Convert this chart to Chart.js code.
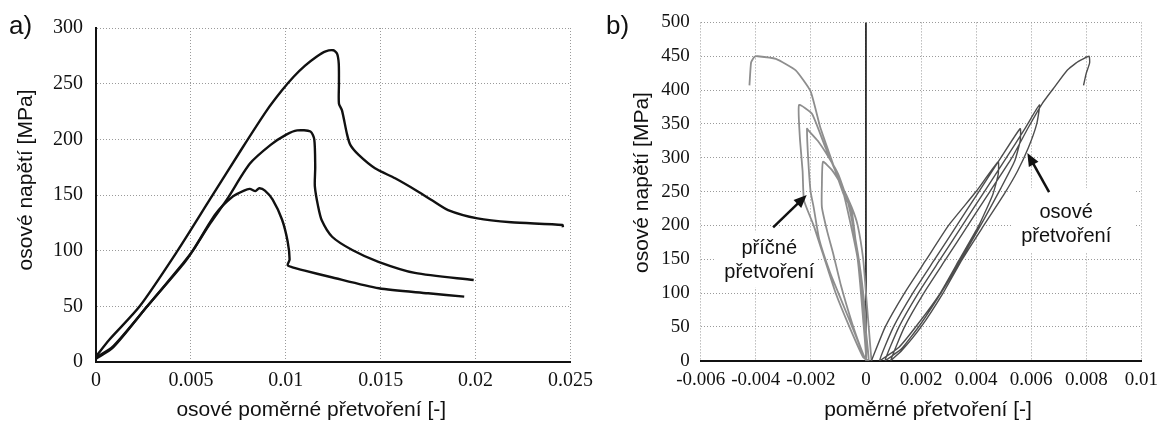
<!DOCTYPE html>
<html>
<head>
<meta charset="utf-8">
<script src="https://cdn.jsdelivr.net/npm/chart.js@4.4.0/dist/chart.umd.min.js"></script>
<style>
  html, body { margin: 0; padding: 0; background: #fff; }
  #wrap { position: relative; width: 1166px; height: 422px; overflow: hidden; }
  canvas { position: absolute; top: 0; }
  #chartA { left: 0; }
  #chartB { left: 616px; }
  .panel { position: absolute; font-family: "Liberation Sans", Arial, sans-serif; font-size: 26px; line-height: 26px; color: #111; }
</style>
</head>
<body>
<div id="wrap">
  <canvas id="chartA" width="600" height="422"></canvas>
  <canvas id="chartB" width="550" height="422"></canvas>
  <div class="panel" style="left:9px; top:12px;">a)</div>
  <div class="panel" style="left:606px; top:12px;">b)</div>
</div>
<script>
// a) osové napětí vs. osové poměrné přetvoření
const aXTicks = [0, 0.005, 0.01, 0.015, 0.02, 0.025];
const aXLabels = ["0", "0.005", "0.01", "0.015", "0.02", "0.025"];
const aYTicks = [0, 50, 100, 150, 200, 250, 300];

const aStrain1 = [0, 0.0007, 0.0023, 0.0043, 0.0060, 0.0077, 0.0090, 0.0098, 0.0104, 0.0110, 0.0116, 0.0121, 0.0125, 0.0127, 0.01279, 0.0128, 0.0128, 0.01296, 0.01322, 0.0134, 0.01384, 0.0147, 0.01576, 0.01698, 0.01768, 0.01855, 0.0201, 0.02187, 0.02458, 0.0246];
const aStress1 = [5, 20, 50, 100, 146, 192, 226, 244, 256, 266, 274, 279, 280, 277, 268, 250, 232, 226, 205, 195, 186, 174, 165, 153, 145.5, 136.5, 129, 125.5, 123, 121];

const aStrain2 = [0, 0.0009, 0.0027, 0.0046, 0.0051, 0.0060, 0.0069, 0.0081, 0.0092, 0.0100, 0.0106, 0.0113, 0.0115, 0.01155, 0.01153, 0.0117, 0.0119, 0.01244, 0.0135, 0.01488, 0.0168, 0.0199];
const aStress2 = [4, 14, 50, 89, 100, 124, 146, 178, 195, 204, 208, 207, 200, 175, 158, 140, 127, 112.5, 100.6, 90, 80, 73.6];

const aStrain3 = [0, 0.0009, 0.0027, 0.0046, 0.0051, 0.0063, 0.0072, 0.0078, 0.0081, 0.0084, 0.0086, 0.0089, 0.0093, 0.0098, 0.0101, 0.0102, 0.0101, 0.01035, 0.0110, 0.0123, 0.0149, 0.0175, 0.0194];
const aStress3 = [3, 13, 50, 88, 100, 133, 148.5, 154, 155.5, 153.5, 156, 154, 146, 128, 108, 92, 87, 85, 82, 76.6, 66.2, 61.7, 58.7];

// b) cyklické zatěžování
const bXTicks = [-0.006, -0.004, -0.002, 0, 0.002, 0.004, 0.006, 0.008, 0.01];
const bXLabels = ["-0.006", "-0.004", "-0.002", "0", "0.002", "0.004", "0.006", "0.008", "0.01"];
const bYTicks = [0, 50, 100, 150, 200, 250, 300, 350, 400, 450, 500];

// příčné přetvoření (cykly + obálka)
const bTransStrain = [
  0.0002, 0.0001, 0, -0.0001, -0.0003, -0.00052, -0.0009, -0.00124, -0.00156,
  -0.0016, -0.0016, -0.0014, -0.0012, -0.0009, -0.0005, -0.0002, 0,
  0, -0.0001, -0.0003, -0.00064, -0.001, -0.00136, -0.00175, -0.00208, -0.00214,
  -0.0021, -0.00201, -0.0019, -0.0017, -0.0013, -0.0009, -0.0004, 0,
  -0.0001, -0.0003, -0.0006, -0.00088, -0.00148, -0.00196, -0.00243,
  -0.0024, -0.0023, -0.00225, -0.0019, -0.0015, -0.0011, -0.0006, -0.0001, 0.0001,
  -0.0001, -0.0003, -0.00052, -0.00082, -0.00124, -0.00166, -0.00201, -0.00255, -0.00327, -0.00393, -0.00405, -0.00417, -0.00423
];
const bTransStress = [
  0, 50, 100, 150, 200, 227, 260, 282, 294,
  260, 227, 190, 160, 110, 55, 20, 0,
  50, 100, 160, 232, 275, 301, 325, 340, 343,
  300, 250, 227, 180, 130, 90, 40, 0,
  60, 150, 210, 257, 316, 365, 378,
  330, 280, 237, 200, 150, 100, 50, 5, 0,
  80, 150, 222, 247, 296, 345, 398, 429, 446, 450, 449, 441, 407
];

// osové přetvoření (cykly + obálka)
const bAxialStrain = [
  0.0002, 0.0007, 0.0014, 0.0022, 0.0030, 0.0040, 0.0048,
  0.0048, 0.0046, 0.0041, 0.0034, 0.0027, 0.0019, 0.0012, 0.0005,
  0.0010, 0.0017, 0.0025, 0.0033, 0.0041, 0.0049, 0.0056,
  0.0056, 0.0054, 0.0049, 0.0043, 0.0036, 0.0028, 0.0020, 0.0013, 0.0007,
  0.0012, 0.0019, 0.0027, 0.0035, 0.0043, 0.0051, 0.0058, 0.0063,
  0.0062, 0.0059, 0.0055, 0.0050, 0.0042, 0.0035, 0.0028, 0.0020, 0.0013, 0.0009,
  0.0014, 0.0021, 0.0029, 0.0037, 0.0045, 0.0053, 0.0059, 0.0064, 0.0068, 0.0073, 0.0077, 0.0081, 0.00812, 0.0080, 0.0079
];
const bAxialStress = [
  0, 50, 100, 150, 200, 250, 294,
  275, 245, 200, 150, 100, 55, 20, 0,
  50, 100, 150, 200, 250, 300, 343,
  325, 295, 255, 210, 160, 105, 55, 18, 0,
  50, 100, 150, 200, 250, 300, 345, 378,
  350, 315, 280, 245, 195, 150, 100, 50, 15, 0,
  50, 100, 150, 200, 250, 300, 345, 380, 402, 429, 442, 450, 440, 425, 407
];

const bZeroStrain = [0, 0];
const bZeroStress = [0, 500];

// popisky se šipkami (v jednotkách os)
const bNotes = [
  { lines: ["příčné", "přetvoření"], box: [-0.00552, -0.00179, 108, 190], textX: -0.00351, textY: [166, 131], arrow: [-0.00337, 197, -0.00215, 245] },
  { lines: ["osové", "přetvoření"], box: [0.00532, 0.00977, 160, 255], textX: 0.00727, textY: [219, 183], arrow: [0.00665, 249, 0.00586, 307] }
];

const titleFontCss = "21px 'Liberation Sans', Arial, sans-serif";
const gridColor = "#9a9a9a";

function curve(xs, ys, color, width, tension) {
  return {
    data: xs.map((x, i) => ({ x: x, y: ys[i] })),
    showLine: true,
    borderColor: color,
    borderWidth: width,
    pointRadius: 0,
    tension: tension,
    fill: false
  };
}

// popisky os - posunuté jako v předloze
function titlesPlugin(t) {
  return {
    id: "titles",
    afterDraw(chart) {
      const ctx = chart.ctx, ca = chart.chartArea;
      ctx.save();
      ctx.fillStyle = "#111";
      ctx.font = titleFontCss;
      ctx.textAlign = "center";
      ctx.textBaseline = "middle";
      ctx.fillText(t.x, (ca.left + ca.right) / 2 + t.xShift, t.xY);
      ctx.translate(t.yX, (ca.top + ca.bottom) / 2 + t.yShift);
      ctx.rotate(-Math.PI / 2);
      ctx.fillText(t.y, 0, 0);
      ctx.restore();
    }
  };
}

function notesPlugin(notes) {
  return {
    id: "notes",
    beforeDatasetsDraw(chart) {
      const ctx = chart.ctx, sx = chart.scales.x, sy = chart.scales.y;
      ctx.save();
      notes.forEach(n => {
        const x1 = sx.getPixelForValue(n.box[0]), x2 = sx.getPixelForValue(n.box[1]);
        const y1 = sy.getPixelForValue(n.box[3]), y2 = sy.getPixelForValue(n.box[2]);
        ctx.fillStyle = "#fff";
        ctx.fillRect(x1, y1, x2 - x1, y2 - y1);
        ctx.fillStyle = "#111";
        ctx.font = "20px 'Liberation Sans', Arial, sans-serif";
        ctx.textAlign = "center";
        ctx.textBaseline = "middle";
        n.lines.forEach((t, i) => {
          ctx.fillText(t, sx.getPixelForValue(n.textX), sy.getPixelForValue(n.textY[i]));
        });
      });
      ctx.restore();
    },
    afterDatasetsDraw(chart) {
      const ctx = chart.ctx, sx = chart.scales.x, sy = chart.scales.y;
      ctx.save();
      notes.forEach(n => {
        const ax = sx.getPixelForValue(n.arrow[0]), ay = sy.getPixelForValue(n.arrow[1]);
        const bx = sx.getPixelForValue(n.arrow[2]), by = sy.getPixelForValue(n.arrow[3]);
        const ang = Math.atan2(by - ay, bx - ax);
        const len = 13, half = 5.5;
        ctx.strokeStyle = "#111";
        ctx.fillStyle = "#111";
        ctx.lineWidth = 2.5;
        ctx.beginPath();
        ctx.moveTo(ax, ay);
        ctx.lineTo(bx - Math.cos(ang) * len * 0.8, by - Math.sin(ang) * len * 0.8);
        ctx.stroke();
        ctx.beginPath();
        ctx.moveTo(bx, by);
        ctx.lineTo(bx - Math.cos(ang) * len - Math.sin(ang) * half, by - Math.sin(ang) * len + Math.cos(ang) * half);
        ctx.lineTo(bx - Math.cos(ang) * len + Math.sin(ang) * half, by - Math.sin(ang) * len - Math.cos(ang) * half);
        ctx.closePath();
        ctx.fill();
      });
      ctx.restore();
    }
  };
}

// graf a)
new Chart(document.getElementById("chartA"), {
  type: "scatter",
  data: {
    datasets: [
      curve(aStrain1, aStress1, "#111", 2.4, 0.25),
      curve(aStrain2, aStress2, "#111", 2.4, 0.25),
      curve(aStrain3, aStress3, "#111", 2.4, 0.25)
    ]
  },
  options: {
    responsive: false,
    animation: false,
    devicePixelRatio: 1,
    layout: { padding: { left: 0, right: 27, top: 28, bottom: 0 } },
    plugins: { legend: { display: false }, tooltip: { enabled: false } },
    scales: {
      x: {
        type: "linear", min: 0, max: 0.025,
        afterBuildTicks: s => { s.ticks = aXTicks.map(v => ({ value: v })); },
        afterFit: s => { s.height = 60; },
        ticks: { callback: (v, i) => aXLabels[i], padding: 7, maxRotation: 0, autoSkip: false, color: "#111", font: { family: "Liberation Serif", size: 20 } },
        grid: { color: gridColor, lineWidth: 1, drawTicks: false },
        border: { display: true, color: "#111", width: 2, dash: [1, 2] }
      },
      y: {
        type: "linear", min: 0, max: 300,
        afterBuildTicks: s => { s.ticks = aYTicks.map(v => ({ value: v })); },
        afterFit: s => { s.width = 96; },
        ticks: { callback: v => String(v), padding: 13, color: "#111", font: { family: "Liberation Serif", size: 20 } },
        grid: { color: gridColor, lineWidth: 1, drawTicks: false },
        border: { display: true, color: "#111", width: 2, dash: [1, 2] }
      }
    }
  },
  plugins: [titlesPlugin({ x: "osové poměrné přetvoření [-]", xShift: -22, xY: 410, y: "osové napětí [MPa]", yX: 26.5, yShift: -15 })]
});

// graf b)
new Chart(document.getElementById("chartB"), {
  type: "scatter",
  data: {
    datasets: [
      curve(bAxialStrain, bAxialStress, "#4d4d4d", 1.4, 0.15),
      curve(bTransStrain, bTransStress, "#8e8e8e", 1.8, 0.15),
      curve(bZeroStrain, bZeroStress, "#111", 1.6, 0)
    ]
  },
  options: {
    responsive: false,
    animation: false,
    devicePixelRatio: 1,
    layout: { padding: { left: 0, right: 20, top: 22, bottom: 0 } },
    plugins: { legend: { display: false }, tooltip: { enabled: false } },
    scales: {
      x: {
        type: "linear", min: -0.006, max: 0.01,
        afterBuildTicks: s => { s.ticks = bXTicks.map(v => ({ value: v })); },
        afterFit: s => { s.height = 61.3; },
        ticks: { callback: (v, i) => bXLabels[i], padding: 8, maxRotation: 0, minRotation: 0, autoSkip: false, color: "#111", font: { family: "Liberation Serif", size: 19 } },
        grid: { color: gridColor, lineWidth: 1, drawTicks: false },
        border: { display: true, color: "#111", width: 2, dash: [1, 2] }
      },
      y: {
        type: "linear", min: 0, max: 500,
        afterBuildTicks: s => { s.ticks = bYTicks.map(v => ({ value: v })); },
        afterFit: s => { s.width = 84.7; },
        ticks: { callback: v => String(v), padding: 11, color: "#111", font: { family: "Liberation Serif", size: 19 } },
        grid: { color: gridColor, lineWidth: 1, drawTicks: false },
        border: { display: false, dash: [1, 2] }
      }
    }
  },
  plugins: [notesPlugin(bNotes), titlesPlugin({ x: "poměrné přetvoření [-]", xShift: 7, xY: 410, y: "osové napětí [MPa]", yX: 26, yShift: -9 })]
});
</script>
</body>
</html>
